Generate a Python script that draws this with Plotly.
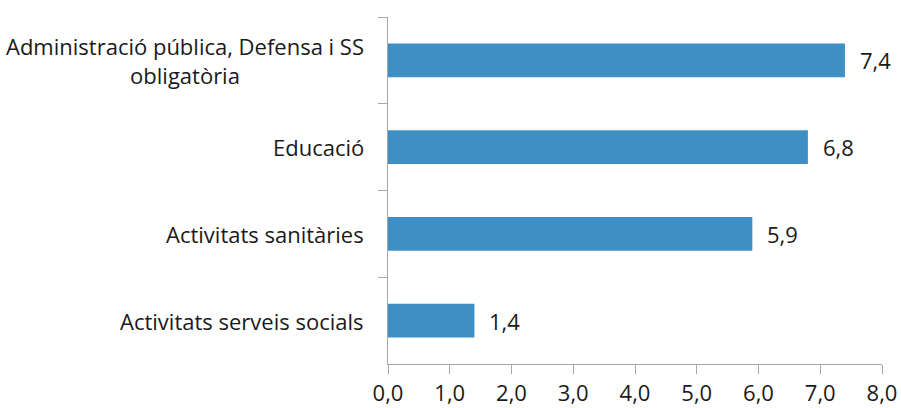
import plotly.graph_objects as go

categories = ["Administració pública, Defensa i SS<br>obligatòria", "Educació",
              "Activitats sanitàries", "Activitats serveis socials"]
values = [7.4, 6.8, 5.9, 1.4]
value_labels = ["7,4", "6,8", "5,9", "1,4"]
x_ticks = [0, 1, 2, 3, 4, 5, 6, 7, 8]
x_tick_labels = ["0,0", "1,0", "2,0", "3,0", "4,0", "5,0", "6,0", "7,0", "8,0"]

FONT = "Open Sans, sans-serif"
FS = 22
AXIS = "#A6A6A6"
TXT = "#1a1a1a"

fig = go.Figure(go.Bar(
    x=values, y=categories, orientation="h",
    marker=dict(color="#3F8FC4", line=dict(width=0)),
    hoverinfo="skip",
))

annotations = []
for c in categories:
    annotations.append(dict(x=0, y=c, xref="paper", yref="y", text=c, showarrow=False,
                            xanchor="right", yanchor="middle", align="center",
                            xshift=-22, font=dict(family=FONT, size=FS, color=TXT)))
for c, v, t in zip(categories, values, value_labels):
    annotations.append(dict(x=v, y=c, xref="x", yref="y", text=t, showarrow=False,
                            xanchor="left", yanchor="middle", xshift=13,
                            font=dict(family=FONT, size=FS, color=TXT)))

fig.update_layout(
    width=901, height=408,
    margin=dict(l=388, r=19, t=17, b=44, autoexpand=False),
    paper_bgcolor="white", plot_bgcolor="white",
    bargap=0.61,
    showlegend=False,
    annotations=annotations,
    xaxis=dict(range=[0, 8], tickvals=x_ticks, ticktext=x_tick_labels, automargin=False,
               showgrid=False, zeroline=False, showline=True, linecolor=AXIS, linewidth=1.3,
               ticks="outside", ticklen=9, tickcolor=AXIS, tickwidth=1.3,
               tickfont=dict(family=FONT, size=FS, color=TXT), fixedrange=True),
    yaxis=dict(autorange="reversed", showticklabels=False, tickson="boundaries", automargin=False,
               showgrid=False, zeroline=False, showline=True, linecolor=AXIS, linewidth=1.3,
               ticks="outside", ticklen=9, tickcolor=AXIS, tickwidth=1.3, fixedrange=True),
)

fig.write_html("out.html", config={"displayModeBar": False},
               post_script="document.body.style.margin='0';document.body.style.overflow='hidden';")
